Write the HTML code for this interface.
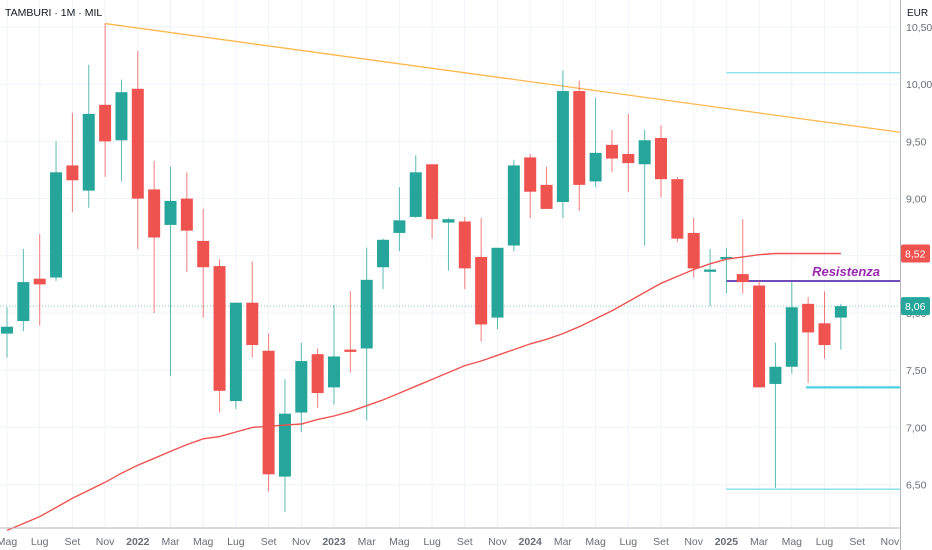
<!DOCTYPE html>
<html><head><meta charset="utf-8"><style>
html,body{margin:0;padding:0;background:#fff;}
svg{display:block;font-family:"Liberation Sans",sans-serif;}
</style></head><body>
<svg id="chart" width="932" height="550" xmlns="http://www.w3.org/2000/svg"></svg>
<script>
const months = ["Mag","Giu","Lug","Ago","Set","Ott","Nov","Dic","2022","Feb","Mar","Apr","Mag","Giu","Lug","Ago","Set","Ott","Nov","Dic","2023","Feb","Mar","Apr","Mag","Giu","Lug","Ago","Set","Ott","Nov","Dic","2024","Feb","Mar","Apr","Mag","Giu","Lug","Ago","Set","Ott","Nov","Dic","2025","Feb","Mar","Apr","Mag","Giu","Lug","Ago","Set","Ott","Nov"];
const opens  = [7.82,7.93,8.30,8.31,9.29,9.07,9.82,9.51,9.96,9.08,8.77,9.00,8.63,8.41,7.23,8.09,7.67,6.57,7.13,7.64,7.35,7.68,7.69,8.40,8.70,8.84,9.30,8.79,8.80,8.49,7.96,8.59,9.36,9.12,8.97,9.94,9.15,9.47,9.39,9.30,9.53,9.17,8.70,8.36,8.47,8.34,8.24,7.38,7.53,8.08,7.91,7.96];
const highs  = [8.05,8.56,8.69,9.50,9.75,10.17,10.53,10.04,10.29,9.33,9.28,9.23,8.91,8.47,8.09,8.45,7.82,7.42,7.74,7.69,8.07,8.19,8.57,8.65,9.10,9.38,9.30,8.83,8.84,8.83,8.57,9.34,9.39,9.28,10.12,10.03,9.88,9.60,9.74,9.60,9.64,9.19,8.83,8.56,8.57,8.82,8.28,7.74,8.27,8.14,8.19,8.08];
const lows   = [7.61,7.84,7.89,8.28,8.88,8.92,9.19,9.15,8.56,8.00,7.45,8.36,7.96,7.13,7.16,7.61,6.44,6.26,6.96,7.17,7.20,7.48,7.06,8.21,8.54,8.83,8.65,8.37,8.21,7.75,7.86,8.54,8.83,8.91,8.83,8.89,9.10,9.23,9.06,8.59,9.01,8.62,8.31,8.06,8.17,8.17,7.35,6.47,7.47,7.39,7.60,7.68];
const closes = [7.88,8.27,8.25,9.23,9.16,9.74,9.50,9.93,9.00,8.66,8.98,8.72,8.40,7.32,8.09,7.72,6.59,7.12,7.58,7.30,7.62,7.66,8.29,8.64,8.81,9.23,8.82,8.82,8.39,7.90,8.57,9.29,9.06,8.91,9.94,9.12,9.40,9.35,9.31,9.51,9.17,8.65,8.39,8.38,8.49,8.27,7.35,7.53,8.05,7.83,7.72,8.06];
const maValues = [6.10,6.16,6.22,6.30,6.38,6.45,6.52,6.60,6.67,6.73,6.79,6.85,6.90,6.92,6.96,7.00,7.01,7.02,7.03,7.07,7.10,7.14,7.19,7.24,7.30,7.36,7.42,7.48,7.54,7.58,7.63,7.68,7.73,7.77,7.82,7.88,7.95,8.02,8.10,8.18,8.26,8.32,8.38,8.43,8.47,8.49,8.51,8.52,8.52,8.52,8.52,8.52];
const yTicks = [10.5,10.0,9.5,9.0,8.5,8.0,7.5,7.0,6.5];
const xTickIdx = [0,2,4,6,8,10,12,14,16,18,20,22,24,26,28,30,32,34,36,38,40,42,44,46,48,50,52,54];
const trendFrom = [6,10.53], trendToValue = 9.58;
const resistance = 8.28, supportLow = 7.35, levelTop = 10.10, levelBottom = 6.46;
const lastPrice = 8.06, maLast = 8.52;

const X = i => 7 + i*16.35;
const Y = v => 84.2 + (10 - v)*114.4;
const NS="http://www.w3.org/2000/svg";
const svg=document.getElementById('chart');
function mk(tag,attrs,parent){const e=document.createElementNS(NS,tag);for(const k in attrs)e.setAttribute(k,attrs[k]);(parent||svg).appendChild(e);return e;}

// grid
const grid=mk('g',{});


yTicks.forEach(v=>{mk('line',{x1:0,x2:900,y1:Y(v),y2:Y(v),stroke:'#f0f3fa','stroke-width':1},grid);});
xTickIdx.forEach(i=>{mk('line',{x1:X(i),x2:X(i),y1:0,y2:528,stroke:'#f0f3fa','stroke-width':1},grid);});

// last price dotted line
const lp=mk('line',{x1:0,x2:900,y1:Y(lastPrice),y2:Y(lastPrice),stroke:'#26a69a','stroke-width':1,'stroke-dasharray':'1 2',opacity:0.6});



// trend line
const tl=mk('line',{x1:X(trendFrom[0]),y1:Y(trendFrom[1]),x2:900,y2:Y(trendToValue),stroke:'#ffb74d','stroke-width':1.3});



// horizontal levels
function hline(v,x1,color,w,name){const l=mk('line',{x1:x1,x2:900,y1:Y(v),y2:Y(v),stroke:color,'stroke-width':w});}
hline(levelTop,X(44),'#80deea',1.3,'level-top');
hline(levelBottom,X(44),'#80deea',1.3,'level-bottom');
hline(supportLow,X(49)-2,'#4dd0e1',2.2,'support-line');
hline(resistance,X(44),'#5e35b1',1.8,'resistance-line');
const rt=mk('text',{x:880,y:Y(resistance)-5,'text-anchor':'end','font-size':13,'font-style':'italic','font-weight':'bold',fill:'#9c27b0'});
rt.textContent='Resistenza';



// candles
const cg=mk('g',{});


opens.forEach((o,i)=>{
  const c=closes[i],up=c>=o,col=up?'#26a69a':'#ef5350',x=X(i);
  const g=mk('g',{},cg);
  
  
  mk('line',{x1:x,x2:x,y1:Y(highs[i]),y2:Y(lows[i]),stroke:col,'stroke-width':1,opacity:0.75},g);
  const top=Y(Math.max(o,c)),bot=Y(Math.min(o,c));
  mk('rect',{x:x-6,y:top,width:12,height:Math.max(2,bot-top),fill:col},g);
});

// MA
const pts=maValues.map((v,i)=>X(i).toFixed(1)+','+Y(v).toFixed(1)).join(' ');
const ma=mk('polyline',{points:pts,fill:'none',stroke:'#ef5350','stroke-width':1.4});



// axes
const ax=mk('g',{});


mk('line',{x1:0,x2:900,y1:528,y2:528,stroke:'#b2b5be','stroke-width':1},ax);
mk('line',{x1:900.5,x2:900.5,y1:0,y2:550,stroke:'#b2b5be','stroke-width':1},ax);
mk('rect',{x:901,y:0,width:31,height:550,fill:'#fff'},ax);
yTicks.forEach(v=>{const t=mk('text',{x:906,y:Y(v)+4,'font-size':10.5,fill:'#6a6d78'},ax);t.textContent=v.toFixed(2).replace('.',',');});
xTickIdx.forEach(i=>{const lbl=months[i]||'Nov';const t=mk('text',{x:X(i),y:545,'text-anchor':'middle','font-size':10.5,fill:'#6a6d78','font-weight':/^\d/.test(lbl)?'bold':'normal'},ax);t.textContent=lbl;});

// price badges
function badge(v,col,name){const g=mk('g',{});mk('rect',{x:901,y:Y(v)-9,width:29,height:18,rx:2,fill:col},g);const t=mk('text',{x:905,y:Y(v)+4,'font-size':10.5,fill:'#fff'},g);t.textContent=v.toFixed(2).replace('.',',');}
badge(maLast,'#ef5350','ma-price-badge');
badge(lastPrice,'#26a69a','last-price-badge');

const title=mk('text',{x:5,y:16,'font-size':10.5,fill:'#131722'});
title.textContent='TAMBURI · 1M · MIL';


const cur=mk('text',{x:907,y:16,'font-size':10,fill:'#131722'});
cur.textContent='EUR';


</script>
</body></html>
